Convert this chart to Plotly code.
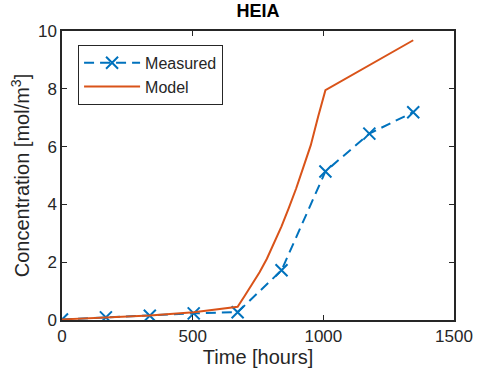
import plotly.graph_objects as go

title = "HEIA"
x_label = "Time [hours]"
y_label = "Concentration [mol/m<sup>3</sup>]"

meas_t = [0, 168, 336, 504, 672, 840, 1008, 1176, 1344]
meas_c = [0.02, 0.09, 0.15, 0.23, 0.27, 1.72, 5.14, 6.45, 7.19]

model_t = [0, 168, 336, 504, 672, 700, 728, 756, 784, 812, 840, 868, 896, 924, 952, 980, 1008, 1344]
model_c = [0.02, 0.08, 0.16, 0.27, 0.46, 0.85, 1.24, 1.65, 2.12, 2.67, 3.24, 3.88, 4.55, 5.30, 6.05, 7.03, 7.95, 9.68]

x_ticks = [0, 500, 1000, 1500]
y_ticks = [0, 2, 4, 6, 8, 10]

BLUE = "#0072BD"
ORANGE = "#D95319"
FONT = "Liberation Sans, Arial, sans-serif"
DARK = "#262626"

fig = go.Figure()
fig.add_trace(go.Scatter(
    x=meas_t, y=meas_c, name="Measured", mode="lines+markers",
    line=dict(color=BLUE, width=2, dash="10px,6px"),
    marker=dict(symbol="x-thin", size=12, line=dict(color=BLUE, width=2)),
))
fig.add_trace(go.Scatter(
    x=model_t, y=model_c, name="Model", mode="lines",
    line=dict(color=ORANGE, width=2),
))

axis_common = dict(
    showgrid=False, zeroline=False, showline=True, linecolor=DARK,
    linewidth=1.5, mirror="ticks", ticks="inside", ticklen=5, tickwidth=1,
    tickcolor=DARK, tickfont=dict(size=17, color=DARK, family=FONT),
)
fig.update_xaxes(range=[0, 1500], tickvals=x_ticks,
                 title=dict(text=x_label, font=dict(size=20, color=DARK, family=FONT), standoff=3),
                 **axis_common)
fig.update_yaxes(range=[0, 10], tickvals=y_ticks,
                 title=dict(text=y_label, font=dict(size=20, color=DARK, family=FONT), standoff=3),
                 **axis_common)

fig.update_layout(
    width=484, height=374,
    margin=dict(l=62, r=30, t=31, b=54),
    paper_bgcolor="white", plot_bgcolor="white",
    font=dict(family=FONT, color=DARK),
    title=dict(text="<b>" + title + "</b>", x=0.5, xanchor="center", xref="paper",
               y=0.972, yanchor="middle", font=dict(size=18, color="black", family=FONT)),
    legend=dict(x=0.041, y=0.952, xanchor="left", yanchor="top", bordercolor=DARK, borderwidth=1,
                bgcolor="white", font=dict(size=16, family=FONT, color=DARK), itemwidth=56),
    showlegend=True,
)

fig.write_html("out.html")
